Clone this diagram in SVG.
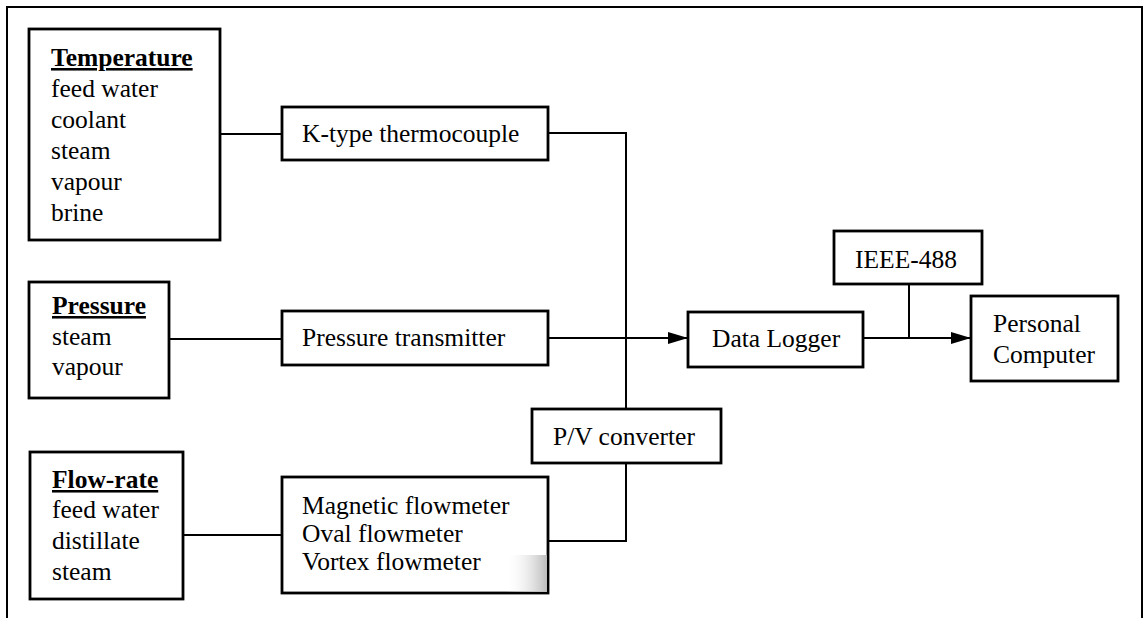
<svg xmlns="http://www.w3.org/2000/svg" width="1148" height="618" viewBox="0 0 1148 618">
<style>
  .box { fill: #fff; stroke: #000; stroke-width: 2.8; }
  .t { font-family: "Liberation Serif", "Times New Roman", serif; font-size: 25.5px; fill: #000; }
  .h { font-weight: bold; text-decoration: underline; }
  .c { fill: none; stroke: #000; stroke-width: 2; }
</style>
<defs>
  <marker id="arr" viewBox="0 0 20 12" refX="20" refY="6" markerWidth="20" markerHeight="12" markerUnits="userSpaceOnUse" orient="auto">
    <path d="M0,0 L20,6 L0,12 Z" fill="#000"/>
  </marker>
  <linearGradient id="speck" x1="0" y1="0" x2="1" y2="0">
    <stop offset="0" stop-color="#fff" stop-opacity="0"/>
    <stop offset="1" stop-color="#bbb"/>
  </linearGradient>
</defs>
<rect width="1148" height="618" fill="#fff"/>
<path d="M7,618 V7 H1142 V618" fill="none" stroke="#000" stroke-width="2"/>

<g id="connectors">
  <line class="c" x1="220" y1="134" x2="282" y2="134"/>
  <line class="c" x1="169" y1="339" x2="282" y2="339"/>
  <line class="c" x1="183" y1="535" x2="282" y2="535"/>
  <polyline class="c" points="548,133 626,133 626,409"/>
  <polyline class="c" points="548,541 626,541 626,463"/>
  <line class="c" x1="548" y1="338" x2="688" y2="338" marker-end="url(#arr)"/>
  <line class="c" x1="863" y1="338" x2="971" y2="338" marker-end="url(#arr)"/>
  <line class="c" x1="909" y1="284" x2="909" y2="338"/>
</g>

<g id="temperature">
  <rect class="box" x="29" y="29" width="191" height="211"/>
  <text class="t h" x="51" y="66">Temperature</text>
  <text class="t" x="51" y="97">feed water</text>
  <text class="t" x="51" y="128">coolant</text>
  <text class="t" x="51" y="159">steam</text>
  <text class="t" x="51" y="190">vapour</text>
  <text class="t" x="51" y="221">brine</text>
</g>

<g id="pressure">
  <rect class="box" x="29" y="282" width="140" height="116"/>
  <text class="t h" x="52" y="314">Pressure</text>
  <text class="t" x="52" y="345">steam</text>
  <text class="t" x="52" y="375">vapour</text>
</g>

<g id="flowrate">
  <rect class="box" x="30" y="452" width="153" height="147"/>
  <text class="t h" x="52" y="488">Flow-rate</text>
  <text class="t" x="52" y="518">feed water</text>
  <text class="t" x="52" y="549">distillate</text>
  <text class="t" x="52" y="580">steam</text>
</g>

<g id="thermocouple">
  <rect class="box" x="282" y="107" width="266" height="53"/>
  <text class="t" x="302" y="142">K-type thermocouple</text>
</g>

<g id="transmitter">
  <rect class="box" x="282" y="311" width="266" height="54"/>
  <text class="t" x="302" y="346">Pressure transmitter</text>
</g>

<g id="flowmeters">
  <rect class="box" x="282" y="477" width="266" height="116"/>
  <rect x="505" y="555" width="42" height="37" fill="url(#speck)"/>
  <text class="t" x="302" y="514">Magnetic flowmeter</text>
  <text class="t" x="302" y="542">Oval flowmeter</text>
  <text class="t" x="302" y="570">Vortex flowmeter</text>
</g>

<g id="pvconverter">
  <rect class="box" x="532" y="409" width="189" height="54"/>
  <text class="t" x="553" y="445">P/V converter</text>
</g>

<g id="datalogger">
  <rect class="box" x="688" y="312" width="175" height="55"/>
  <text class="t" x="712" y="347">Data Logger</text>
</g>

<g id="ieee">
  <rect class="box" x="834" y="231" width="148" height="53"/>
  <text class="t" x="855" y="268">IEEE-488</text>
</g>

<g id="pc">
  <rect class="box" x="971" y="296" width="147" height="85" stroke-width="3.2"/>
  <text class="t" x="993" y="332">Personal</text>
  <text class="t" x="993" y="363">Computer</text>
</g>
</svg>
